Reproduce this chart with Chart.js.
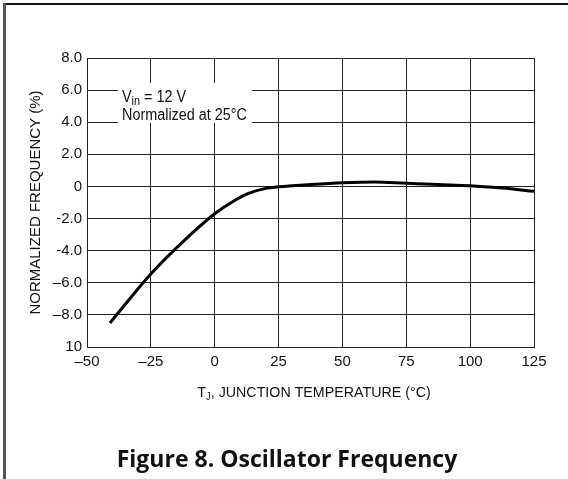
<!DOCTYPE html>
<html>
<head>
<meta charset="utf-8">
<script src="https://cdn.jsdelivr.net/npm/chart.js@4"></script>
<style>
  body { margin: 0; background: #fff; }
  #wrap { width: 568px; height: 479px; }
</style>
</head>
<body>
<div id="wrap"><canvas id="oscChart" width="568" height="479"></canvas></div>
<script>
// junction temperature (°C) and normalized frequency (%)
const temps = [-41, -25, -12.5, 0, 7, 13.5, 20, 25, 37.5, 50, 62.5, 75, 87.5, 100, 112.5, 125];
const freq  = [-8.5, -5.45, -3.45, -1.7, -0.95, -0.42, -0.12, -0.02, 0.12, 0.23, 0.28, 0.2, 0.12, 0.05, -0.1, -0.3];

const xTickValues = [-50, -25, 0, 25, 50, 75, 100, 125];
const xTickLabels = ["\u201350", "\u201325", "0", "25", "50", "75", "100", "125"];
const yTickValues = [8, 6, 4, 2, 0, -2, -4, -6, -8, -10];
const yTickLabels = ["8.0", "6.0", "4.0", "2.0", "0", "-2.0", "-4.0", "\u20136.0", "\u20138.0", "10"];

const axisFont = "'Liberation Sans', Arial, sans-serif";

const extras = {
  id: "extras",
  afterDraw(chart) {
    const ctx = chart.ctx;
    ctx.save();
    // page frame
    ctx.fillStyle = "#111";
    ctx.fillRect(3, 3, 565, 2);
    ctx.fillStyle = "#555";
    ctx.fillRect(3, 3, 3, 476);

    // annotation box
    ctx.fillStyle = "#fff";
    ctx.fillRect(118, 83, 134, 40);
    ctx.fillStyle = "#111";
    ctx.textBaseline = "alphabetic";
    ctx.textAlign = "left";
    ctx.save();
    ctx.translate(122, 0);
    ctx.scale(0.9, 1);
    ctx.font = "16px " + axisFont;
    ctx.fillText("V", 0, 102);
    let w = ctx.measureText("V").width;
    ctx.font = "12px " + axisFont;
    ctx.fillText("in", w, 105);
    let w2 = ctx.measureText("in").width;
    ctx.font = "16px " + axisFont;
    ctx.fillText(" = 12 V", w + w2, 102);
    ctx.fillText("Normalized at 25\u00b0C", 0, 120);
    ctx.restore();

    // x axis title with subscript
    const cx = 314;
    const sx = 0.95;
    ctx.font = "15px " + axisFont;
    const a = ctx.measureText("T").width;
    const rest = ", JUNCTION TEMPERATURE (\u00b0C)";
    const c = ctx.measureText(rest).width;
    ctx.font = "10px " + axisFont;
    const b = ctx.measureText("J").width;
    ctx.save();
    ctx.translate(cx - sx * (a + b + c) / 2, 0);
    ctx.scale(sx, 1);
    ctx.font = "15px " + axisFont;
    ctx.fillText("T", 0, 397);
    ctx.font = "10px " + axisFont;
    ctx.fillText("J", a, 400);
    ctx.font = "15px " + axisFont;
    ctx.fillText(rest, a + b, 397);
    ctx.restore();

    // figure caption
    ctx.font = "bold 23px 'Open Sans', 'Noto Sans', sans-serif";
    ctx.textAlign = "center";
    ctx.fillText("Figure 8. Oscillator Frequency", 287, 467);
    ctx.restore();
  }
};

new Chart(document.getElementById("oscChart"), {
  type: "line",
  data: {
    datasets: [{
      data: temps.map((t, i) => ({ x: t, y: freq[i] })),
      borderColor: "#000",
      borderWidth: 3,
      pointRadius: 0,
      cubicInterpolationMode: "monotone",
      fill: false
    }]
  },
  options: {
    responsive: false,
    animation: false,
    layout: { padding: { left: 0, top: 58, right: 34, bottom: 0 } },
    plugins: { legend: { display: false }, tooltip: { enabled: false } },
    scales: {
      x: {
        type: "linear",
        min: -50,
        max: 125,
        afterFit: s => { s.height = 132; },
        afterBuildTicks: s => { s.ticks = xTickValues.map(v => ({ value: v })); },
        grid: { color: "#222", lineWidth: 1, drawTicks: false },
        border: { color: "#222" },
        ticks: {
          padding: 6,
          color: "#111",
          font: { family: axisFont, size: 15 },
          maxRotation: 0,
          callback: v => xTickLabels[xTickValues.indexOf(v)]
        }
      },
      y: {
        min: -10,
        max: 8,
        afterFit: s => { s.width = 87; },
        afterBuildTicks: s => { s.ticks = yTickValues.map(v => ({ value: v })); },
        grid: { color: "#222", lineWidth: 1, drawTicks: false },
        border: { color: "#222" },
        title: {
          display: true,
          text: "NORMALIZED FREQUENCY (%)",
          color: "#111",
          padding: { top: 27, bottom: 0 },
          font: { family: axisFont, size: 15, weight: "normal" }
        },
        ticks: {
          padding: 5,
          color: "#111",
          font: { family: axisFont, size: 15 },
          callback: v => yTickLabels[yTickValues.indexOf(v)]
        }
      }
    }
  },
  plugins: [extras]
});
</script>
</body>
</html>
